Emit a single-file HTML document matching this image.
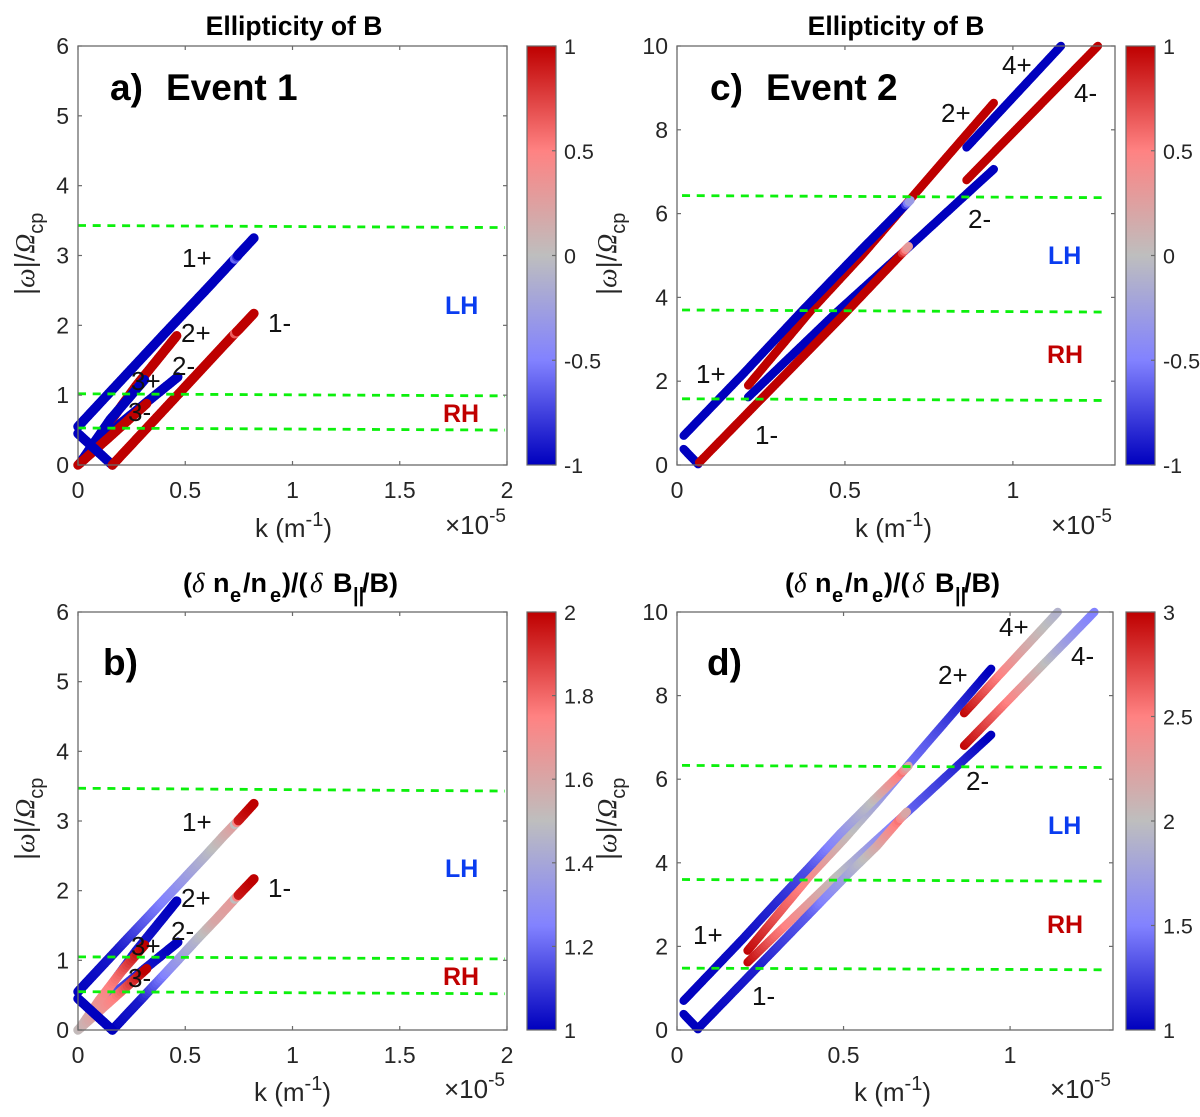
<!DOCTYPE html>
<html lang="en">
<head>
<meta charset="utf-8">
<title>Ellipticity and compressibility of dispersion branches</title>
<style>
html,body{margin:0;padding:0;background:#fff;}
svg{display:block;font-family:"Liberation Sans",sans-serif;}
.tick{font-size:23px;fill:#262626;}
.cbt{font-size:21.5px;fill:#262626;}
.lab{font-size:26px;fill:#111;}
.ttl{font-size:26.5px;font-weight:bold;fill:#000;}
.ttl2{font-size:27px;font-weight:bold;fill:#000;}
.pan{font-size:37px;font-weight:bold;fill:#000;}
.lh{font-size:25px;font-weight:bold;fill:#0a3cf0;}
.rh{font-size:25px;font-weight:bold;fill:#c00000;}
.ax{font-size:26px;fill:#262626;}
.ylab{font-size:27.5px;fill:#262626;}
.ser{font-family:"Liberation Serif",serif;font-style:italic;}
</style>
</head>
<body>
<svg id="fig" xmlns="http://www.w3.org/2000/svg" width="1200" height="1117" viewBox="0 0 1200 1117">
  <rect x="0" y="0" width="1200" height="1117" fill="#fff"/>
  <g id="marks"></g>

  <!-- Titles -->
  <text class="ttl" x="294" y="35" text-anchor="middle">Ellipticity of B</text>
  <text class="ttl" x="896" y="35" text-anchor="middle">Ellipticity of B</text>
  <text class="ttl2" y="592"><tspan x="183">(</tspan><tspan class="ser" font-weight="normal" x="192">δ</tspan><tspan x="213">n</tspan><tspan font-size="20" x="230" dy="10">e</tspan><tspan x="243" dy="-10">/n</tspan><tspan font-size="20" x="270" dy="10">e</tspan><tspan x="282" dy="-10">)/(</tspan><tspan class="ser" font-weight="normal" x="310">δ</tspan><tspan x="333">B</tspan><tspan font-size="20" x="353" dy="10">||</tspan><tspan x="362" dy="-10">/B)</tspan></text>
  <text class="ttl2" y="592"><tspan x="785">(</tspan><tspan class="ser" font-weight="normal" x="794">δ</tspan><tspan x="815">n</tspan><tspan font-size="20" x="832" dy="10">e</tspan><tspan x="845" dy="-10">/n</tspan><tspan font-size="20" x="872" dy="10">e</tspan><tspan x="884" dy="-10">)/(</tspan><tspan class="ser" font-weight="normal" x="912">δ</tspan><tspan x="935">B</tspan><tspan font-size="20" x="955" dy="10">||</tspan><tspan x="964" dy="-10">/B)</tspan></text>

  <!-- Panel letters -->
  <text class="pan" x="110" y="100">a)</text>
  <text class="pan" x="166" y="100">Event 1</text>
  <text class="pan" x="710" y="100">c)</text>
  <text class="pan" x="766" y="100">Event 2</text>
  <text class="pan" x="103" y="675">b)</text>
  <text class="pan" x="707" y="675">d)</text>

  <!-- X labels -->
  <text class="ax" x="255" y="537">k (m<tspan font-size="20" dy="-11">-1</tspan><tspan dy="11">)</tspan></text>
  <text class="ax" x="855" y="537">k (m<tspan font-size="20" dy="-11">-1</tspan><tspan dy="11">)</tspan></text>
  <text class="ax" x="254" y="1101">k (m<tspan font-size="20" dy="-11">-1</tspan><tspan dy="11">)</tspan></text>
  <text class="ax" x="854" y="1101">k (m<tspan font-size="20" dy="-11">-1</tspan><tspan dy="11">)</tspan></text>
  <text class="ax" x="445" y="534">×10<tspan font-size="19" dy="-12">-5</tspan></text>
  <text class="ax" x="1051" y="534">×10<tspan font-size="19" dy="-12">-5</tspan></text>
  <text class="ax" x="444" y="1098">×10<tspan font-size="19" dy="-12">-5</tspan></text>
  <text class="ax" x="1050" y="1098">×10<tspan font-size="19" dy="-12">-5</tspan></text>

  <!-- Y labels -->
  <text class="ylab" transform="translate(34,295) rotate(-90)">|<tspan class="ser">ω</tspan>|/<tspan class="ser">Ω</tspan><tspan font-size="20" dy="9">cp</tspan></text>
  <text class="ylab" transform="translate(34,860) rotate(-90)">|<tspan class="ser">ω</tspan>|/<tspan class="ser">Ω</tspan><tspan font-size="20" dy="9">cp</tspan></text>
  <text class="ylab" transform="translate(616,295) rotate(-90)">|<tspan class="ser">ω</tspan>|/<tspan class="ser">Ω</tspan><tspan font-size="20" dy="9">cp</tspan></text>
  <text class="ylab" transform="translate(616,860) rotate(-90)">|<tspan class="ser">ω</tspan>|/<tspan class="ser">Ω</tspan><tspan font-size="20" dy="9">cp</tspan></text>

  <!-- Branch labels panel a -->
  <text class="lab" x="182" y="267">1+</text>
  <text class="lab" x="268" y="332">1-</text>
  <text class="lab" x="181" y="342">2+</text>
  <text class="lab" x="172" y="375">2-</text>
  <text class="lab" x="131" y="390">3+</text>
  <text class="lab" x="128" y="421">3-</text>
  <text class="lh" x="445" y="314">LH</text>
  <text class="rh" x="443" y="422">RH</text>

  <!-- Branch labels panel b -->
  <text class="lab" x="182" y="831">1+</text>
  <text class="lab" x="268" y="897">1-</text>
  <text class="lab" x="181" y="907">2+</text>
  <text class="lab" x="171" y="940">2-</text>
  <text class="lab" x="131" y="955">3+</text>
  <text class="lab" x="128" y="987">3-</text>
  <text class="lh" x="445" y="877">LH</text>
  <text class="rh" x="443" y="985">RH</text>

  <!-- Branch labels panel c -->
  <text class="lab" x="696" y="383">1+</text>
  <text class="lab" x="755" y="444">1-</text>
  <text class="lab" x="941" y="122">2+</text>
  <text class="lab" x="968" y="228">2-</text>
  <text class="lab" x="1002" y="74">4+</text>
  <text class="lab" x="1074" y="102">4-</text>
  <text class="lh" x="1048" y="264">LH</text>
  <text class="rh" x="1047" y="363">RH</text>

  <!-- Branch labels panel d -->
  <text class="lab" x="693" y="944">1+</text>
  <text class="lab" x="752" y="1005">1-</text>
  <text class="lab" x="938" y="684">2+</text>
  <text class="lab" x="966" y="790">2-</text>
  <text class="lab" x="999" y="636">4+</text>
  <text class="lab" x="1071" y="665">4-</text>
  <text class="lh" x="1048" y="834">LH</text>
  <text class="rh" x="1047" y="933">RH</text>
</svg>

<script>
// ---- Tick labels ----
const xTicksEvent1 = [0, 0.5, 1, 1.5, 2];
const xTicksEvent2 = [0, 0.5, 1];
const yTicksEvent1 = [0, 1, 2, 3, 4, 5, 6];
const yTicksEvent2 = [0, 2, 4, 6, 8, 10];
const cbTicksEllipticity = [-1, -0.5, 0, 0.5, 1];
const cbTicksB = [1, 1.2, 1.4, 1.6, 1.8, 2];
const cbTicksD = [1, 1.5, 2, 2.5, 3];

// ---- Colour map anchor values (position in 0..1 -> rgb) ----
const cmapPos = [0, 0.25, 0.5, 0.75, 1];
const cmapR = [0, 130, 190, 255, 190];
const cmapG = [0, 130, 190, 130, 0];
const cmapB = [190, 255, 190, 130, 0];

// ---- Green reference lines: frequency at left and right ends ----
const aGreenLeft = [3.43, 1.02, 0.53];
const aGreenRight = [3.40, 0.99, 0.50];
const bGreenLeft = [3.47, 1.05, 0.55];
const bGreenRight = [3.43, 1.02, 0.52];
const cGreenLeft = [6.43, 3.70, 1.58];
const cGreenRight = [6.38, 3.65, 1.54];
const dGreenLeft = [6.33, 3.60, 1.48];
const dGreenRight = [6.28, 3.56, 1.44];
const event1GreenK = [0, 1.99];
const event2GreenK = [0.015, 1.28];

// ---- Panel a: Event 1 ellipticity ----
const a2pK = [0.05, 0.27, 0.46];
const a2pW = [0.2, 1.13, 1.85];
const a2pV = [1, 1, 1];
const a2mK = [0.01, 0.2, 0.465];
const a2mW = [0.03, 0.6, 1.26];
const a2mV = [-1, -1, -1];
const a3pK = [0.01, 0.15, 0.31];
const a3pW = [0.03, 0.65, 1.22];
const a3pV = [-1, -1, -1];
const a3mK = [0, 0.15, 0.32];
const a3mW = [0, 0.41, 0.88];
const a3mV = [1, 1, 1];
const aDownK = [0, 0.16];
const aDownW = [0.45, 0];
const aDownV = [-1, -1];
const a1pK = [0, 0.2, 0.4, 0.6, 0.73, 0.74, 0.75, 0.82];
const a1pW = [0.55, 1.21, 1.87, 2.52, 2.95, 2.98, 3.02, 3.25];
const a1pV = [-1, -1, -1, -1, -1, -0.6, -1, -1];
const a1mK = [0.16, 0.3, 0.5, 0.73, 0.74, 0.75, 0.82];
const a1mW = [0, 0.46, 1.12, 1.88, 1.91, 1.94, 2.17];
const a1mV = [1, 1, 1, 1, 0.65, 1, 1];

// ---- Panel b: Event 1 density/field ratio ----
const b2pK = [0.05, 0.13, 0.27, 0.46];
const b2pW = [0.2, 0.54, 1.13, 1.85];
const b2pV = [1.3, 1.25, 1.05, 1];
const b2mK = [0.01, 0.1, 0.2, 0.3, 0.465];
const b2mW = [0.03, 0.32, 0.6, 0.85, 1.26];
const b2mV = [1.4, 1.3, 1.15, 1.05, 1];
const b3pK = [0.01, 0.1, 0.2, 0.31];
const b3pW = [0.03, 0.43, 0.83, 1.22];
const b3pV = [1.5, 1.68, 1.8, 2];
const b3mK = [0, 0.1, 0.2, 0.32];
const b3mW = [0, 0.275, 0.55, 0.88];
const b3mV = [1.5, 1.65, 1.78, 2];
const bDownK = [0, 0.16];
const bDownW = [0.45, 0];
const bDownV = [1, 1];
const b1pK = [0, 0.2, 0.35, 0.46, 0.6, 0.68, 0.73, 0.74, 0.755, 0.82];
const b1pW = [0.55, 1.21, 1.7, 2.06, 2.52, 2.79, 2.95, 2.98, 3.03, 3.25];
const b1pV = [1, 1.05, 1.2, 1.3, 1.45, 1.55, 1.62, 1.5, 1.95, 2];
const b1mK = [0.16, 0.3, 0.44, 0.56, 0.65, 0.73, 0.74, 0.755, 0.82];
const b1mW = [0, 0.46, 0.92, 1.32, 1.61, 1.88, 1.91, 1.96, 2.17];
const b1mV = [1, 1.05, 1.3, 1.45, 1.6, 1.65, 1.5, 1.95, 2];

// ---- Panel c: Event 2 ellipticity ----
const c2pK = [0.212, 0.4, 0.55, 0.69, 0.8, 0.943];
const c2pW = [1.9, 3.7, 5.0, 6.3, 7.32, 8.64];
const c2pV = [1, 1, 1, 1, 1, 1];
const c2mK = [0.212, 0.476, 0.69, 0.857, 0.943];
const c2mW = [1.62, 3.65, 5.2, 6.43, 7.06];
const c2mV = [-1, -1, -1, -1, -1];
const c4pK = [0.862, 1.143];
const c4pW = [7.58, 10];
const c4pV = [-1, -1];
const c4mK = [0.862, 1.253];
const c4mW = [6.8, 10];
const c4mV = [1, 1];
const cDownK = [0.02, 0.063];
const cDownW = [0.38, 0.02];
const cDownV = [-1, -1];
const c1pK = [0.02, 0.2, 0.375, 0.55, 0.68, 0.695];
const c1pW = [0.7, 2.2, 3.7, 5.15, 6.2, 6.32];
const c1pV = [-1, -1, -1, -1, -1, -0.3];
const c1mK = [0.066, 0.25, 0.51, 0.67, 0.69];
const c1mW = [0.06, 1.57, 3.7, 5.05, 5.22];
const c1mV = [1, 1, 1, 1, 0.3];

// ---- Panel d: Event 2 density/field ratio ----
const d2pK = [0.212, 0.3, 0.4, 0.5, 0.6, 0.69, 0.76, 0.86, 0.943];
const d2pW = [1.9, 2.74, 3.7, 4.55, 5.45, 6.3, 6.95, 7.87, 8.64];
const d2pV = [3, 2.7, 2.45, 2.1, 1.8, 1.45, 1.35, 1.15, 1];
const d2mK = [0.212, 0.3, 0.476, 0.6, 0.69, 0.857, 0.943];
const d2mW = [1.62, 2.3, 3.65, 4.55, 5.2, 6.43, 7.06];
const d2mV = [3, 2.6, 2.05, 1.65, 1.4, 1.15, 1];
const d4pK = [0.862, 0.95, 1.05, 1.143];
const d4pW = [7.58, 8.34, 9.2, 10];
const d4pV = [3, 2.6, 2.2, 1.9];
const d4mK = [0.862, 1, 1.1, 1.18, 1.253];
const d4mW = [6.8, 7.93, 8.75, 9.4, 10];
const d4mV = [3, 2.5, 2.05, 1.7, 1.5];
const dDownK = [0.02, 0.063];
const dDownW = [0.38, 0.02];
const dDownV = [1, 1];
const d1pK = [0.02, 0.2, 0.3, 0.4, 0.49, 0.59, 0.68, 0.695];
const d1pW = [0.7, 2.2, 3.07, 3.92, 4.7, 5.5, 6.2, 6.32];
const d1pV = [1, 1.05, 1.15, 1.3, 1.6, 2, 2.55, 2.2];
const d1mK = [0.066, 0.25, 0.4, 0.51, 0.6, 0.67, 0.69];
const d1mW = [0.06, 1.57, 2.8, 3.7, 4.4, 5.05, 5.22];
const d1mV = [1, 1.12, 1.35, 1.75, 2.15, 2.55, 2.2];

const NS = 'http://www.w3.org/2000/svg';
const root = document.getElementById('marks');

function mk(tag, parent) {
  const el = document.createElementNS(NS, tag);
  parent.appendChild(el);
  return el;
}
function linear(d0, d1, r0, r1) {
  return function (v) { return r0 + (v - d0) * (r1 - r0) / (d1 - d0); };
}
function colorAt(t) {
  const u = Math.max(0, Math.min(1, t));
  let i = 0;
  while (i < cmapPos.length - 2 && u > cmapPos[i + 1]) i++;
  const f = (u - cmapPos[i]) / (cmapPos[i + 1] - cmapPos[i]);
  const r = Math.round(cmapR[i] + f * (cmapR[i + 1] - cmapR[i]));
  const g = Math.round(cmapG[i] + f * (cmapG[i + 1] - cmapG[i]));
  const b = Math.round(cmapB[i] + f * (cmapB[i + 1] - cmapB[i]));
  return 'rgb(' + r + ',' + g + ',' + b + ')';
}

function drawPanel(cfg) {
  const g = mk('g', root);
  
  
  const sx = linear(cfg.xDom[0], cfg.xDom[1], cfg.xPx[0], cfg.xPx[1]);
  const sy = linear(cfg.yDom[0], cfg.yDom[1], cfg.yPx[0], cfg.yPx[1]);
  const sc = linear(cfg.cDom[0], cfg.cDom[1], 0, 1);

  // Branches
  cfg.branches.forEach(function (b) {
    const bg = mk('g', g);
    
    
    for (let i = 0; i < b.k.length - 1; i++) {
      const x0 = sx(b.k[i]), x1 = sx(b.k[i + 1]);
      const y0 = sy(b.w[i]), y1 = sy(b.w[i + 1]);
      const len = Math.hypot(x1 - x0, y1 - y0);
      const n = Math.max(1, Math.ceil(len / 3));
      for (let j = 0; j < n; j++) {
        const f0 = j / n, f1 = (j + 1) / n;
        const seg = mk('line', bg);
        
        
        seg.setAttribute('x1', x0 + f0 * (x1 - x0));
        seg.setAttribute('y1', y0 + f0 * (y1 - y0));
        seg.setAttribute('x2', x0 + f1 * (x1 - x0));
        seg.setAttribute('y2', y0 + f1 * (y1 - y0));
        seg.setAttribute('stroke', colorAt(sc(b.v[i] + f1 * (b.v[i + 1] - b.v[i]))));
        seg.setAttribute('stroke-width', cfg.lw);
        seg.setAttribute('stroke-linecap', 'round');
      }
    }
  });

  // Green dashed lines
  cfg.greenLeft.forEach(function (wl, i) {
    const ln = mk('line', g);
    
    
    ln.setAttribute('x1', sx(cfg.greenK[0]));
    ln.setAttribute('x2', sx(cfg.greenK[1]));
    ln.setAttribute('y1', sy(wl));
    ln.setAttribute('y2', sy(cfg.greenRight[i]));
    ln.setAttribute('stroke', '#0cf00c');
    ln.setAttribute('stroke-width', '2.8');
    ln.setAttribute('stroke-dasharray', '8 6.7');
  });

  // Axes frame
  const axCol = '#6a6a6a';
  const frame = mk('rect', g);
  
  
  frame.setAttribute('x', cfg.xPx[0]);
  frame.setAttribute('y', cfg.yPx[1]);
  frame.setAttribute('width', cfg.xPx[1] - cfg.xPx[0]);
  frame.setAttribute('height', cfg.yPx[0] - cfg.yPx[1]);
  frame.setAttribute('fill', 'none');
  frame.setAttribute('stroke', axCol);
  frame.setAttribute('stroke-width', '1.3');

  cfg.xTicks.forEach(function (t) {
    [[cfg.yPx[0], cfg.yPx[0] - 4], [cfg.yPx[1], cfg.yPx[1] + 4]].forEach(function (p) {
      const tk = mk('line', g);
      
      
      tk.setAttribute('x1', sx(t));
      tk.setAttribute('x2', sx(t));
      tk.setAttribute('y1', p[0]);
      tk.setAttribute('y2', p[1]);
      tk.setAttribute('stroke', axCol);
      tk.setAttribute('stroke-width', '1.2');
    });
    const lb = mk('text', g);
    
    
    lb.setAttribute('class', 'tick');
    lb.setAttribute('x', sx(t));
    lb.setAttribute('y', cfg.yPx[0] + 33);
    lb.setAttribute('text-anchor', 'middle');
    lb.textContent = String(t);
  });
  cfg.yTicks.forEach(function (t) {
    [[cfg.xPx[0], cfg.xPx[0] + 4], [cfg.xPx[1], cfg.xPx[1] - 4]].forEach(function (p) {
      const tk = mk('line', g);
      
      
      tk.setAttribute('y1', sy(t));
      tk.setAttribute('y2', sy(t));
      tk.setAttribute('x1', p[0]);
      tk.setAttribute('x2', p[1]);
      tk.setAttribute('stroke', axCol);
      tk.setAttribute('stroke-width', '1.2');
    });
    const lb = mk('text', g);
    
    
    lb.setAttribute('class', 'tick');
    lb.setAttribute('x', cfg.xPx[0] - 9);
    lb.setAttribute('y', sy(t) + 8);
    lb.setAttribute('text-anchor', 'end');
    lb.textContent = String(t);
  });

  // Colour bar
  const cy = linear(cfg.cDom[0], cfg.cDom[1], cfg.yPx[0], cfg.yPx[1]);
  const gradId = 'cbgrad-' + cfg.id;
  const defs = mk('defs', g);
  const grad = mk('linearGradient', defs);
  grad.setAttribute('id', gradId);
  grad.setAttribute('x1', '0');
  grad.setAttribute('x2', '0');
  grad.setAttribute('y1', '1');
  grad.setAttribute('y2', '0');
  cmapPos.forEach(function (p) {
    const st = mk('stop', grad);
    st.setAttribute('offset', p);
    st.setAttribute('stop-color', colorAt(p));
  });
  const bar = mk('rect', g);
  
  
  bar.setAttribute('x', cfg.cbX);
  bar.setAttribute('y', cfg.yPx[1]);
  bar.setAttribute('width', 29);
  bar.setAttribute('height', cfg.yPx[0] - cfg.yPx[1]);
  bar.setAttribute('fill', 'url(#' + gradId + ')');
  bar.setAttribute('stroke', axCol);
  bar.setAttribute('stroke-width', '1.2');
  cfg.cbTicks.forEach(function (t) {
    const tk = mk('line', g);
    
    
    tk.setAttribute('x1', cfg.cbX + 29);
    tk.setAttribute('x2', cfg.cbX + 25);
    tk.setAttribute('y1', cy(t));
    tk.setAttribute('y2', cy(t));
    tk.setAttribute('stroke', axCol);
    tk.setAttribute('stroke-width', '1.2');
    const lb = mk('text', g);
    
    
    lb.setAttribute('class', 'cbt');
    lb.setAttribute('x', cfg.cbX + 37);
    lb.setAttribute('y', cy(t) + 8);
    lb.textContent = String(t);
  });
}

drawPanel({
  id: 'a', xPx: [78, 507], yPx: [465, 46], xDom: [0, 2], yDom: [0, 6], cDom: [-1, 1],
  cbX: 527, lw: 9.5, xTicks: xTicksEvent1, yTicks: yTicksEvent1, cbTicks: cbTicksEllipticity,
  greenLeft: aGreenLeft, greenRight: aGreenRight, greenK: event1GreenK,
  branches: [
    { name: '2plus', k: a2pK, w: a2pW, v: a2pV },
    { name: '2minus', k: a2mK, w: a2mW, v: a2mV },
    { name: '3plus', k: a3pK, w: a3pW, v: a3pV },
    { name: '3minus', k: a3mK, w: a3mW, v: a3mV },
    { name: 'descending', k: aDownK, w: aDownW, v: aDownV },
    { name: '1plus', k: a1pK, w: a1pW, v: a1pV },
    { name: '1minus', k: a1mK, w: a1mW, v: a1mV }
  ]
});
drawPanel({
  id: 'b', xPx: [78, 507], yPx: [1030, 612], xDom: [0, 2], yDom: [0, 6], cDom: [1, 2],
  cbX: 527, lw: 9.5, xTicks: xTicksEvent1, yTicks: yTicksEvent1, cbTicks: cbTicksB,
  greenLeft: bGreenLeft, greenRight: bGreenRight, greenK: event1GreenK,
  branches: [
    { name: '2plus', k: b2pK, w: b2pW, v: b2pV },
    { name: '2minus', k: b2mK, w: b2mW, v: b2mV },
    { name: '3plus', k: b3pK, w: b3pW, v: b3pV },
    { name: '3minus', k: b3mK, w: b3mW, v: b3mV },
    { name: '1plus', k: b1pK, w: b1pW, v: b1pV },
    { name: '1minus', k: b1mK, w: b1mW, v: b1mV },
    { name: 'descending', k: bDownK, w: bDownW, v: bDownV }
  ]
});
drawPanel({
  id: 'c', xPx: [677, 1115], yPx: [465, 46], xDom: [0, 1.304], yDom: [0, 10], cDom: [-1, 1],
  cbX: 1126, lw: 8.5, xTicks: xTicksEvent2, yTicks: yTicksEvent2, cbTicks: cbTicksEllipticity,
  greenLeft: cGreenLeft, greenRight: cGreenRight, greenK: event2GreenK,
  branches: [
    { name: '2plus', k: c2pK, w: c2pW, v: c2pV },
    { name: '2minus', k: c2mK, w: c2mW, v: c2mV },
    { name: '4plus', k: c4pK, w: c4pW, v: c4pV },
    { name: '4minus', k: c4mK, w: c4mW, v: c4mV },
    { name: 'descending', k: cDownK, w: cDownW, v: cDownV },
    { name: '1plus', k: c1pK, w: c1pW, v: c1pV },
    { name: '1minus', k: c1mK, w: c1mW, v: c1mV }
  ]
});
drawPanel({
  id: 'd', xPx: [677, 1113], yPx: [1030, 612], xDom: [0, 1.309], yDom: [0, 10], cDom: [1, 3],
  cbX: 1126, lw: 8.5, xTicks: xTicksEvent2, yTicks: yTicksEvent2, cbTicks: cbTicksD,
  greenLeft: dGreenLeft, greenRight: dGreenRight, greenK: event2GreenK,
  branches: [
    { name: '2plus', k: d2pK, w: d2pW, v: d2pV },
    { name: '2minus', k: d2mK, w: d2mW, v: d2mV },
    { name: '4plus', k: d4pK, w: d4pW, v: d4pV },
    { name: '4minus', k: d4mK, w: d4mW, v: d4mV },
    { name: '1plus', k: d1pK, w: d1pW, v: d1pV },
    { name: '1minus', k: d1mK, w: d1mW, v: d1mV },
    { name: 'descending', k: dDownK, w: dDownW, v: dDownV }
  ]
});
</script>
</body>
</html>
